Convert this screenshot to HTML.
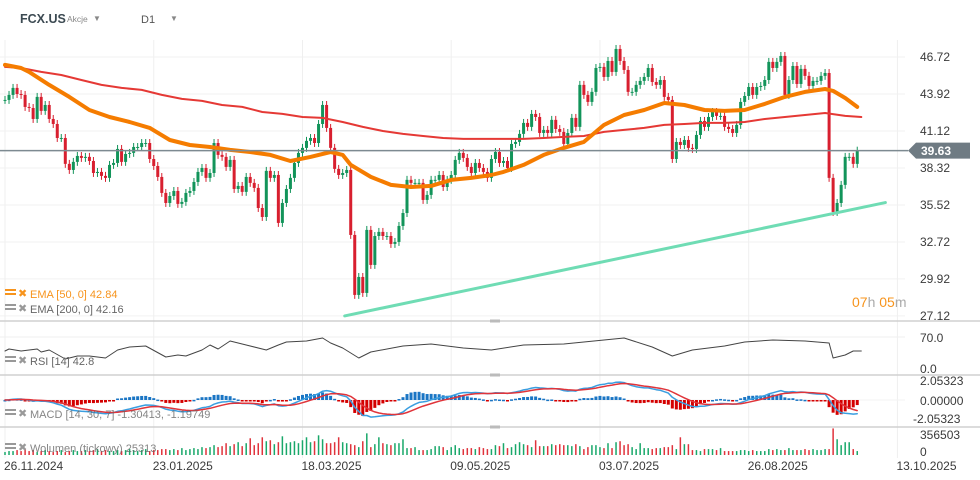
<!DOCTYPE html>
<html><head><meta charset="utf-8"><style>
html,body{margin:0;padding:0;background:#fff;}
svg{display:block;font-family:"Liberation Sans",sans-serif;}
</style></head><body>
<svg id="chart" width="980" height="480" viewBox="0 0 980 480">
<g id="grid"></g>
<g id="header">
<text x="20" y="23" font-size="12.5" font-weight="bold" fill="#3c4a52">FCX.US</text>
<text x="67" y="22" font-size="8.5" fill="#888">Akcje</text>
<text x="93" y="21" font-size="8" fill="#888">▼</text>
<text x="141" y="23" font-size="11" fill="#555">D1</text>
<text x="170" y="21" font-size="8" fill="#888">▼</text>
</g>
<g id="price"></g>
<g id="rsi"></g>
<g id="macd"></g>
<g id="vol"></g>
<g id="axes"></g>
<g id="legends">
<g><rect x="5" y="289" width="11" height="2" fill="#f7941d"/><rect x="5" y="293" width="11" height="2" fill="#f7941d"/><text x="18" y="297" font-size="11" fill="#f7941d">✖</text><text x="30" y="298" font-size="11" fill="#f7941d">EMA  [50,  0]  42.84</text></g>
<g><rect x="5" y="304" width="11" height="2" fill="#999"/><rect x="5" y="308" width="11" height="2" fill="#999"/><text x="18" y="312" font-size="11" fill="#999">✖</text><text x="30" y="313" font-size="11" fill="#666">EMA  [200,  0]  42.16</text></g>
<g><rect x="5" y="356" width="11" height="2" fill="#999"/><rect x="5" y="360" width="11" height="2" fill="#999"/><text x="18" y="364" font-size="11" fill="#999">✖</text><text x="30" y="365" font-size="11" fill="#666">RSI  [14]  42.8</text></g>
<g><rect x="5" y="409" width="11" height="2" fill="#999"/><rect x="5" y="413" width="11" height="2" fill="#999"/><text x="18" y="417" font-size="11" fill="#999">✖</text><text x="30" y="418" font-size="11" fill="#666" opacity="0.8">MACD  [14,  30,  7]  -1.30413,  -1.19749</text></g>
<g><rect x="5" y="443" width="11" height="2" fill="#999"/><rect x="5" y="447" width="11" height="2" fill="#999"/><text x="18" y="451" font-size="11" fill="#999">✖</text><text x="30" y="452" font-size="11" fill="#666" opacity="0.8">Wolumen  (tickowy)  25313</text></g>
</g>
<g><text x="852" y="307" font-size="14"><tspan fill="#f7941d">07</tspan><tspan fill="#aaa">h </tspan><tspan fill="#f7941d">05</tspan><tspan fill="#aaa">m</tspan></text></g>
</svg>
<script>
const closes=[43.47,43.85,44.38,43.92,43.85,42.94,42.86,42.03,43.70,42.64,43.09,42.03,41.65,40.59,40.59,38.63,38.17,38.78,39.23,39.08,39.16,38.85,37.94,38.02,37.72,37.57,38.55,38.70,39.76,38.78,39.38,39.46,39.91,39.91,40.21,40.21,39.00,38.47,37.64,36.43,35.67,36.20,36.58,35.60,35.75,36.43,36.58,37.26,38.02,38.32,37.57,37.94,40.21,39.31,39.16,38.40,38.93,36.73,36.96,36.51,
37.64,37.19,36.81,35.29,34.61,38.10,37.57,37.79,34.16,35.67,36.73,37.57,38.70,39.46,39.84,40.37,40.59,40.21,41.65,43.09,41.35,39.84,38.25,37.79,37.94,38.17,33.25,
28.71,30.07,28.86,33.63,30.98,33.17,33.48,33.17,33.17,32.57,32.72,33.93,34.91,37.42,37.19,37.19,37.19,35.90,36.28,37.42,37.42,37.79,36.88,37.42,37.79,38.93,39.46,39.08,38.40,37.94,38.70,38.32,38.02,
37.57,39.00,39.53,38.70,38.85,38.32,40.14,40.29,40.90,41.73,41.43,42.41,42.18,40.97,41.20,40.97,41.96,41.27,41.05,40.14,40.97,42.11,41.43,44.61,43.85,43.32,44.08,45.89,45.97,45.21,46.42,45.59,47.33,46.42,45.74,44.08,44.08,44.61,44.91,45.21,45.89,44.83,44.61,44.98,43.70,43.47,39.00,
40.29,40.06,40.44,39.84,39.76,40.82,41.88,41.43,42.18,42.56,42.26,42.26,41.43,41.27,40.97,41.58,43.32,43.77,44.45,43.85,44.45,44.53,44.98,46.35,45.89,46.35,46.80,43.85,44.98,46.04,44.68,45.82,45.29,44.53,44.91,44.91,45.29,45.51,37.57,34.99,35.67,37.04,39.16,39.16,38.63,39.63];
const ema50Idx=[0,4,6,11,16,21,26,31,36,41,46,51,56,61,66,71,76,81,84,86,91,96,101,106,111,116,121,124,129,134,139,144,149,154,159,164,169,174,179,184,189,194,199,204,206,209,212];
const ema50Val=[46.12,45.89,45.59,44.61,43.70,42.71,42.18,41.80,41.35,40.44,40.06,39.91,39.69,39.53,39.31,38.85,39.16,39.53,39.31,38.55,37.64,37.04,36.88,36.96,37.42,37.57,37.79,38.02,38.55,39.31,39.84,40.29,41.58,42.33,42.71,43.24,43.09,42.71,42.64,42.71,43.17,43.70,44.08,44.30,44.15,43.62,42.94];
const ema200Idx=[0,4,9,14,19,24,29,34,39,44,49,54,59,64,69,74,79,84,89,94,99,104,109,114,119,124,129,134,139,144,149,154,159,164,169,174,179,184,189,194,199,204,209,213];
const ema200Val=[45.97,45.89,45.59,45.36,44.98,44.61,44.38,44.23,43.85,43.55,43.40,43.09,42.94,42.56,42.41,42.18,42.11,41.80,41.43,41.12,40.90,40.74,40.59,40.52,40.52,40.52,40.52,40.59,40.67,40.74,41.05,41.20,41.35,41.58,41.65,41.73,41.73,41.80,42.03,42.18,42.33,42.48,42.26,42.18];
const rsiIdx=[0,1,4,8,9,11,15,18,21,25,28,31,35,40,43,45,49,51,53,56,60,65,68,70,75,79,81,84,88,91,99,106,114,121,129,139,149,154,161,166,171,179,184,191,199,205,206,209,211,213];
const rsiVal=[38.4,42.9,38.4,42.9,36.1,40.6,20.3,27.1,27.1,22.6,40.6,47.4,49.7,24.8,29.3,27.1,40.6,51.9,42.9,60.9,51.9,40.6,51.9,58.7,60.9,67.7,56.4,45.1,22.6,36.1,49.7,54.2,45.1,40.6,51.9,54.2,63.2,67.7,47.4,27.1,40.6,49.7,58.7,63.2,60.9,56.4,22.6,29.3,38.4,38.4];
const volumes=[39,52,52,65,52,78,52,65,39,52,65,52,39,52,65,39,52,65,52,52,
65,52,65,78,52,65,52,52,65,52,65,78,65,52,65,78,52,65,65,78,
78,65,78,65,91,65,78,91,78,104,91,104,130,104,117,156,117,143,169,117,
156,221,130,156,234,182,195,143,169,247,156,169,182,156,195,234,169,
182,260,208,156,156,169,234,169,156,143,130,104,182,286,104,143,234,156,143,130,156,156,208,91,91,104,65,65,65,78,117,117,104,65,104,130,91,78,91,91,78,104,91,78,78,130,117,156,91,104,143,169,143,130,104,195,117,117,117,143,130,143,130,130,117,143,117,78,104,130,130,104,91,156,91,169,182,130,143,104,78,156,91,91,78,91,91,104,104,130,78,234,143,143,65,65,52,78,78,78,65,91,52,52,52,52,65,65,52,65,52,52,52,78,65,78,65,65,91,65,65,65,78,65,78,65,65,78,78,351,208,130,169,169,78,52];
const priceTicks=[46.72,43.92,41.12,38.32,35.52,32.72,29.92,27.12];
const dateLabels=["26.11.2024","23.01.2025","18.03.2025","09.05.2025","03.07.2025","26.08.2025","13.10.2025"];
const dateIdx=[0,37,74,111,148,185,222];
const trendStart=[84.5,27.12],trendEnd=[219,35.7];

const NS="http://www.w3.org/2000/svg";
function mk(tag,attrs,parent){const e=document.createElementNS(NS,tag);for(const k in attrs)e.setAttribute(k,attrs[k]);parent.appendChild(e);return e;}
const X=i=>5+i*4.02;
const Y=p=>57+(46.72-p)*13.21;
const RY=v=>368-v*0.443;
const MY=v=>400-v*9.74;
const VY=v=>455-v/356.5*27;
const G=id=>document.getElementById(id);

const grid=G('grid');
for(const p of priceTicks){const l=mk('line',{x1:0,x2:905,y1:Y(p),y2:Y(p),stroke:'#f2f2f2','stroke-width':1},grid);

}
dateIdx.forEach(i=>{const l=mk('line',{x1:X(i),x2:X(i),y1:40,y2:458,stroke:'#efefef','stroke-width':1},grid);

});
[[321,'#d0d0d0'],[375,'#d0d0d0'],[427,'#d0d0d0']].forEach(([y,c])=>{const l=mk('line',{x1:0,x2:980,y1:y,y2:y,stroke:c,'stroke-width':1.5},grid);


const h=mk('rect',{x:490,y:y-1.5,width:10,height:3,fill:'#bbb'},grid);

});
const rl=mk('line',{x1:0,x2:905,y1:RY(70),y2:RY(70),stroke:'#efefef'},grid);


const ml=mk('line',{x1:0,x2:905,y1:MY(0),y2:MY(0),stroke:'#f3f3f3'},grid);



const price=G('price');
const opens=closes.map((c,i)=>i===0?c:closes[i-1]);
closes.forEach((c,i)=>{const o=opens[i];const up=c>=o;const col=up?'#12945a':'#d81f2f';
const hi=Math.max(o,c)+0.3,lo=Math.min(o,c)-0.3;
const w=mk('line',{x1:X(i),x2:X(i),y1:Y(hi),y2:Y(lo),stroke:col,'stroke-width':1},price);


const top=Y(Math.max(o,c)),bot=Y(Math.min(o,c));
const b=mk('rect',{x:X(i)-1.5,y:top,width:3,height:Math.max(1,bot-top),fill:col},price);

});
function poly(idx,vals,yf,attrs,parent,name){const pts=idx.map((i,k)=>X(i).toFixed(1)+','+yf(vals[k]).toFixed(1)).join(' ');
const p=mk('polyline',Object.assign({points:pts,fill:'none','stroke-linejoin':'round','stroke-linecap':'round'},attrs),parent);

return p;}
poly(ema200Idx,ema200Val,Y,{stroke:'#e53935','stroke-width':2},price,'ema200-line');
poly(ema50Idx,ema50Val,Y,{stroke:'#f57c00','stroke-width':4},price,'ema50-line');
const tl=mk('line',{x1:X(trendStart[0]),y1:Y(trendStart[1]),x2:X(trendEnd[0]),y2:Y(trendEnd[1]),stroke:'#6fdcb4','stroke-width':3,'stroke-linecap':'round'},price);


const last=closes[closes.length-1];
const cl=mk('line',{x1:0,x2:908,y1:Y(last),y2:Y(last),stroke:'#7d8a91','stroke-width':1.5},price);


const tag=mk('polygon',{points:`908,${Y(last)} 916,${Y(last)-8} 970,${Y(last)-8} 970,${Y(last)+8} 916,${Y(last)+8}`,fill:'#6f7b83'},price);


const tt=mk('text',{x:921,y:Y(last)+4.5,'font-size':12,'font-weight':'bold',fill:'#fff'},price);tt.textContent=last.toFixed(2);



poly(rsiIdx,rsiVal,RY,{stroke:'#444','stroke-width':1},G('rsi'),'rsi-line');

function ema(arr,n){const k=2/(n+1);const out=[];arr.forEach((v,i)=>out.push(i===0?v:v*k+out[i-1]*(1-k)));return out;}
const e14=ema(closes,14),e30=ema(closes,30);
const macd=e14.map((v,i)=>v-e30[i]);const sig=ema(macd,7);
const mg=G('macd');
macd.forEach((m,i)=>{const h=(m-sig[i])*1.6;const y0=MY(0),y1=MY(h);
const r=mk('rect',{x:X(i)-1.5,y:Math.min(y0,y1),width:3,height:Math.max(1.5,Math.abs(y1-y0)),fill:h>=0?'#1a75c4':'#d40000'},mg);

});
const allIdx=closes.map((_,i)=>i);
poly(allIdx,macd,MY,{stroke:'#3a9ee0','stroke-width':1.5},mg,'macd-line');
poly(allIdx,sig,MY,{stroke:'#e0343a','stroke-width':1.5},mg,'macd-signal-line');

const vg=G('vol');
volumes.forEach((v,i)=>{if(i>=closes.length)return;const up=closes[i]>=opens[i];
const r=mk('rect',{x:X(i)-0.75,y:VY(v),width:1.5,height:455-VY(v),fill:up?'#19a86a':'#e0333c'},vg);

});

const ax=G('axes');
function lbl(x,y,t,name,size){const e=mk('text',{x:x,y:y,'font-size':size||12,fill:'#3a3a3a'},ax);e.textContent=t;

}
priceTicks.forEach(p=>{if(Math.abs(Y(p)-Y(last))>10)lbl(920,Y(p)+4,p.toFixed(2),'price-tick-label');});
lbl(920,342,'70.0','rsi-tick-label');lbl(920,373,'0.0','rsi-tick-label');
lbl(920,385,'2.05323','macd-tick-label');lbl(920,405,'0.00000','macd-tick-label');lbl(913,423,'-2.05323','macd-tick-label');
lbl(920,439,'356503','volume-tick-label');lbl(920,456,'0','volume-tick-label');
dateLabels.forEach((d,k)=>lbl(X(dateIdx[k])-1,470,d,'date-tick-label'));
</script>
</body></html>
